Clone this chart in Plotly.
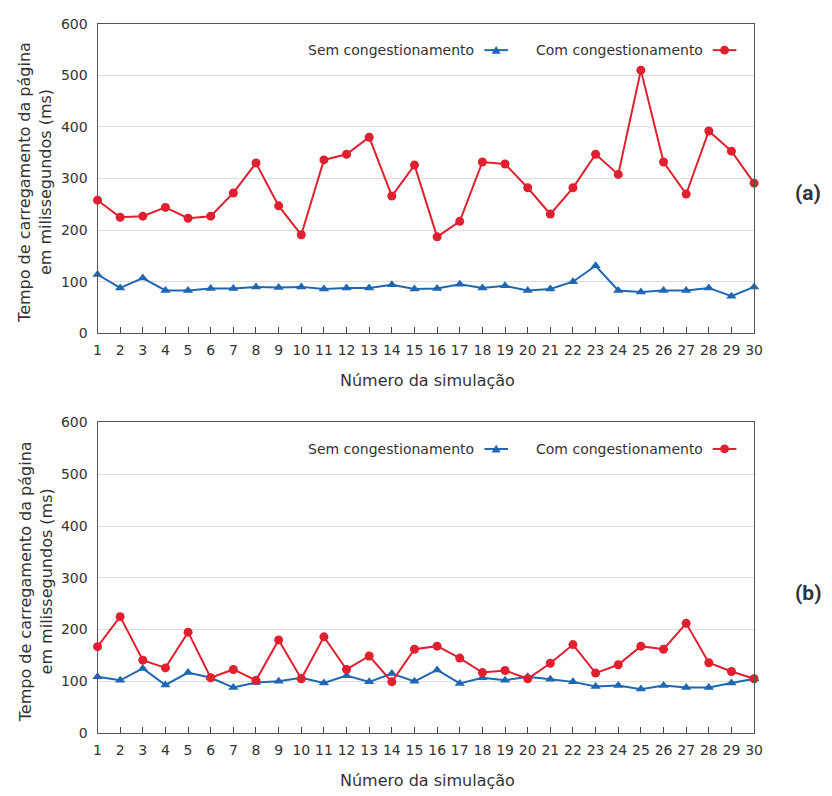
import plotly.graph_objects as go

W, H = 832, 796

simulacoes = list(range(1, 31))
tick_labels = [str(i) for i in simulacoes]
y_ticks = [0, 100, 200, 300, 400, 500, 600]

# (a)
a_sem = [114, 88, 107, 83, 83, 87, 87, 90, 89, 90, 86, 88, 88, 94, 86,
         87, 95, 88, 92, 83, 86, 100, 131, 83, 80, 83, 83, 88, 72, 90]
a_com = [258, 225, 227, 244, 223, 227, 272, 330, 247, 191, 336, 347, 380, 266, 326,
         187, 217, 332, 328, 282, 231, 282, 347, 308, 510, 332, 270, 392, 353, 291]
# (b)
b_sem = [109, 102, 125, 93, 117, 107, 88, 98, 100, 107, 97, 111, 99, 115, 100,
         122, 96, 107, 102, 109, 104, 99, 90, 92, 85, 92, 88, 88, 97, 105]
b_com = [167, 225, 141, 126, 195, 107, 123, 102, 180, 105, 186, 123, 149, 99, 162,
         168, 145, 117, 121, 105, 135, 171, 116, 132, 168, 162, 212, 136, 119, 105]

series_names = ["Sem congestionamento", "Com congestionamento"]
panel_labels = ["(a)", "(b)"]

BLUE = "#1f66b3"
RED = "#e0202e"
FONT = "DejaVu Sans"
TXT = "#333333"

def px(x):
    return x / W

def py(y):
    return (H - y) / H

fig = go.Figure()

panels = [
    dict(sem=a_sem, com=a_com, top=16, bottom=332, xa="x", ya="y"),
    dict(sem=b_sem, com=b_com, top=423, bottom=740, xa="x2", ya="y2"),
]

left, right = 95, 762

for i, p in enumerate(panels):
    fig.add_trace(go.Scatter(
        x=simulacoes, y=p["sem"], mode="lines+markers", name=series_names[0],
        line=dict(color=BLUE, width=2), marker=dict(symbol="triangle-up", size=9, color=BLUE),
        xaxis=p["xa"], yaxis=p["ya"], showlegend=False, cliponaxis=False))
    fig.add_trace(go.Scatter(
        x=simulacoes, y=p["com"], mode="lines+markers", name=series_names[1],
        line=dict(color=RED, width=2), marker=dict(symbol="circle", size=9, color=RED),
        xaxis=p["xa"], yaxis=p["ya"], showlegend=False, cliponaxis=False))

axis_common = dict(showline=True, linecolor="#555555", linewidth=1.2, mirror=True)

layout = dict(
    width=W, height=H, margin=dict(l=0, r=0, t=0, b=0),
    paper_bgcolor="white", plot_bgcolor="white",
    font=dict(family=FONT, size=14, color=TXT),
)

for i, p in enumerate(panels):
    sfx = "" if i == 0 else "2"
    layout["xaxis" + sfx] = dict(
        domain=[px(left), px(right)], anchor="y" + sfx, range=[1, 30],
        tickmode="array", tickvals=simulacoes, ticktext=tick_labels,
        ticks="inside", ticklen=6, tickcolor="#444444", tickwidth=1,
        showgrid=False, zeroline=False, tickfont=dict(size=14, color=TXT),
        ticklabelstandoff=4, **axis_common)
    layout["yaxis" + sfx] = dict(
        domain=[py(p["bottom"]), py(p["top"])], anchor="x" + sfx, range=[0, 600],
        tickmode="array", tickvals=y_ticks, ticks="", showgrid=True,
        gridcolor="#dddddd", gridwidth=1, zeroline=False,
        tickfont=dict(size=14, color=TXT), ticklabelstandoff=6, **axis_common)

fig.update_layout(**layout)

annotations = []
shapes = []
for i, p in enumerate(panels):
    ymid = (p["top"] + p["bottom"]) / 2
    annotations.append(dict(
        text="Tempo de carregamento da página<br>em milissegundos (ms)",
        x=px(32), y=py(ymid + 4), xref="paper", yref="paper", textangle=-90,
        showarrow=False, font=dict(size=16, color=TXT, family=FONT),
        xanchor="center", yanchor="middle"))
    annotations.append(dict(
        text="Número da simulação", x=px(430), y=py(p["bottom"] + 48),
        xref="paper", yref="paper", showarrow=False,
        font=dict(size=16, color=TXT, family=FONT), xanchor="center", yanchor="middle"))
    annotations.append(dict(
        text="<b>" + panel_labels[i] + "</b>", x=px(817), y=py(ymid + 15),
        xref="paper", yref="paper", showarrow=False,
        font=dict(size=21, color=TXT, family="Roboto"), xanchor="center", yanchor="middle"))
    ly = p["top"] + 27
    # legend texts
    annotations.append(dict(
        text=series_names[0], x=px(480), y=py(ly), xref="paper", yref="paper",
        showarrow=False, xanchor="right", yanchor="middle",
        font=dict(size=14, color=TXT, family=FONT)))
    annotations.append(dict(
        text=series_names[1], x=px(712), y=py(ly), xref="paper", yref="paper",
        showarrow=False, xanchor="right", yanchor="middle",
        font=dict(size=14, color=TXT, family=FONT)))
    # legend keys
    shapes.append(dict(type="line", xref="paper", yref="paper",
                       x0=px(488), x1=px(512), y0=py(ly), y1=py(ly),
                       line=dict(color=BLUE, width=2)))
    tx, r = 500, 4.5
    shapes.append(dict(type="path", xref="paper", yref="paper",
                       path=f"M {px(tx - r)} {py(ly + r * 0.8)} L {px(tx + r)} {py(ly + r * 0.8)} L {px(tx)} {py(ly - r)} Z",
                       fillcolor=BLUE, line=dict(color=BLUE, width=0)))
    shapes.append(dict(type="line", xref="paper", yref="paper",
                       x0=px(720), x1=px(744), y0=py(ly), y1=py(ly),
                       line=dict(color=RED, width=2)))
    cx = 732
    shapes.append(dict(type="circle", xref="paper", yref="paper",
                       x0=px(cx - r), x1=px(cx + r), y0=py(ly + r), y1=py(ly - r),
                       fillcolor=RED, line=dict(color=RED, width=0)))

fig.update_layout(annotations=annotations, shapes=shapes)

fig.write_html(
    "out.html",
    config={"displayModeBar": False},
    post_script="document.body.style.margin='0';document.body.style.overflow='hidden';",
)
